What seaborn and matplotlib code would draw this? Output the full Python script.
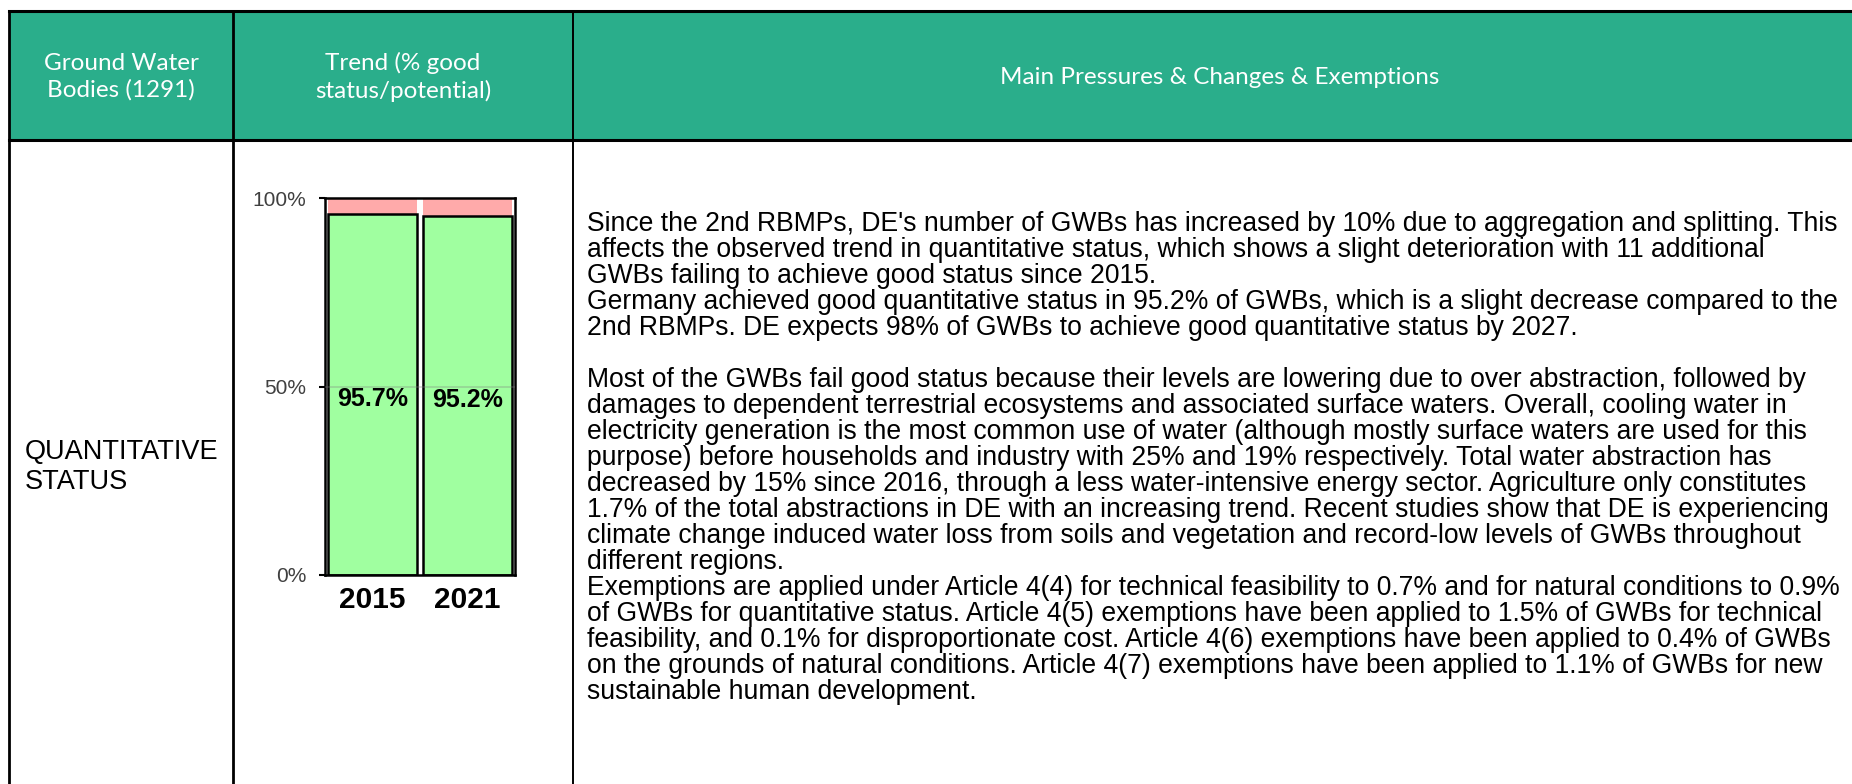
import numpy as np
import pandas as pd
import matplotlib
matplotlib.use("Agg")
import matplotlib.pyplot as plt
import seaborn as sns

# datos del gráfico
years = ["2015", "2021"]
good_pct = [95.7, 95.2]
total_pct = [100, 100]
y_ticks = [0, 50, 100]
y_tick_labels = ["0%", "50%", "100%"]

# textos de la tabla
header_cols = ["Ground Water\nBodies (1291)", "Trend (% good\nstatus/potential)",
               "Main Pressures & Changes & Exemptions"]
row_label = "QUANTITATIVE\nSTATUS"
body_lines = [
    "Since the 2nd RBMPs, DE's number of GWBs has increased by 10% due to aggregation and splitting. This",
    "affects the observed trend in quantitative status, which shows a slight deterioration with 11 additional",
    "GWBs failing to achieve good status since 2015.",
    "Germany achieved good quantitative status in 95.2% of GWBs, which is a slight decrease compared to the",
    "2nd RBMPs. DE expects 98% of GWBs to achieve good quantitative status by 2027.",
    "",
    "Most of the GWBs fail good status because their levels are lowering due to over abstraction, followed by",
    "damages to dependent terrestrial ecosystems and associated surface waters. Overall, cooling water in",
    "electricity generation is the most common use of water (although mostly surface waters are used for this",
    "purpose) before households and industry with 25% and 19% respectively. Total water abstraction has",
    "decreased by 15% since 2016, through a less water-intensive energy sector. Agriculture only constitutes",
    "1.7% of the total abstractions in DE with an increasing trend. Recent studies show that DE is experiencing",
    "climate change induced water loss from soils and vegetation and record-low levels of GWBs throughout",
    "different regions.",
    "Exemptions are applied under Article 4(4) for technical feasibility to 0.7% and for natural conditions to 0.9%",
    "of GWBs for quantitative status. Article 4(5) exemptions have been applied to 1.5% of GWBs for technical",
    "feasibility, and 0.1% for disproportionate cost. Article 4(6) exemptions have been applied to 0.4% of GWBs",
    "on the grounds of natural conditions. Article 4(7) exemptions have been applied to 1.1% of GWBs for new",
    "sustainable human development.",
]

GREEN_HEADER = "#2aae8b"
GOOD = "#a0ffa0"
BAD = "#ffaaaa"

W, H = 1852, 784
fig = plt.figure(figsize=(W / 100, H / 100), dpi=100)

# 📌 capa de fondo en píxeles para la tabla
bg = fig.add_axes([0, 0, 1, 1])
bg.set_xlim(0, W)
bg.set_ylim(H, 0)
bg.axis("off")

bg.add_patch(plt.Rectangle((9, 11), W - 9, 129, color=GREEN_HEADER, lw=0))
bg.plot([9, W], [11, 11], color="black", lw=2.2)
bg.plot([9, W], [140, 140], color="black", lw=2.2)
bg.plot([9, 9], [11, H], color="black", lw=2.0)
bg.plot([233, 233], [11, H], color="black", lw=2.0)
bg.plot([573, 573], [11, H], color="black", lw=1.4)

head_font = dict(family="Lato", color="white", fontsize=17.5, ha="center", va="center", linespacing=1.3)
bg.text(121, 77, header_cols[0], **head_font)
bg.text(403, 77, header_cols[1], **head_font)
bg.text(1220, 77, header_cols[2], **head_font)

bg.text(25, 467, row_label, family="Liberation Sans", fontsize=19.5, ha="left", va="center", linespacing=1.2)

for i, line in enumerate(body_lines):
    bg.text(587, 224 + 26 * i, line, family="Liberation Sans", fontsize=19.1, ha="left", va="center")

# 📊 gráfico de barras apiladas
ax = fig.add_axes([325 / W, (H - 575) / H, (515 - 325) / W, (575 - 198) / H])
sns.barplot(x=years, y=total_pct, color=BAD, saturation=1, width=0.94, linewidth=0, ax=ax)
sns.barplot(x=years, y=good_pct, color=GOOD, saturation=1, width=0.94,
            edgecolor="black", linewidth=1.8, ax=ax)
ax.bar_label(ax.containers[1], labels=[f"{v}%" for v in good_pct], label_type="center",
             padding=-3, family="Liberation Sans", fontweight="bold", fontsize=18)

ax.axhline(50, color="gray", alpha=0.35, lw=1.2, zorder=5)
ax.set_xlim(-0.5, 1.5)
ax.set_ylim(0, 100)
ax.set_yticks(y_ticks)
ax.set_yticklabels(y_tick_labels, family="Liberation Sans", fontsize=15, color="#404040")
ax.set_xticks(range(len(years)))
ax.set_xticklabels(years, family="Liberation Sans", fontweight="bold", fontsize=21.5)
ax.tick_params(axis="y", length=4.5, width=1.5, pad=9)
ax.tick_params(axis="x", length=0, pad=8)
ax.set_xlabel("")
ax.set_ylabel("")
for s in ax.spines.values():
    s.set_linewidth(1.8)
    s.set_color("black")

fig.savefig("out.png", dpi=100)
